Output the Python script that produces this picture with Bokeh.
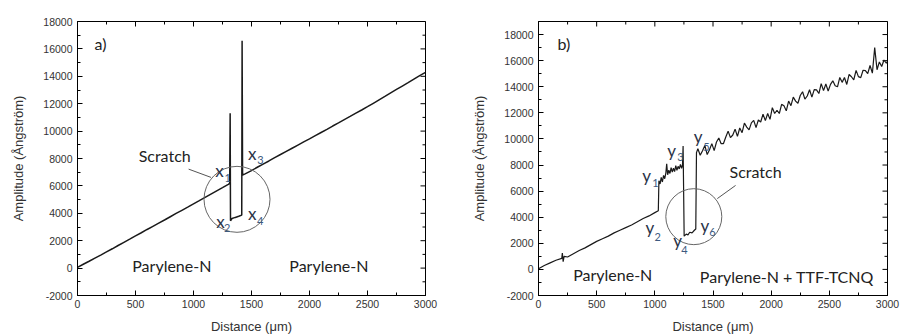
import math
from bokeh.plotting import figure
from bokeh.layouts import row
from bokeh.models import Range1d, SingleIntervalTicker, CustomJSTickFormatter
from bokeh.core.properties import value
from bokeh.embed import file_html
from bokeh.resources import INLINE

# ---------------- data: panel a (Parylene-N / Parylene-N) ----------------
dist_a = [0, 50, 100, 150, 200, 250, 300, 350, 400, 450, 500, 550, 600, 650, 700,
          750, 800, 850, 900, 950, 1000, 1050, 1100, 1150, 1200, 1250, 1300,
          1312, 1316, 1319, 1332, 1360, 1390, 1416, 1419, 1423, 1445,
          1500, 1550, 1600, 1650, 1700, 1750, 1800, 1850, 1900, 1950, 2000, 2050,
          2100, 2150, 2200, 2250, 2300, 2350, 2400, 2450, 2500, 2550, 2600, 2650,
          2700, 2750, 2800, 2850, 2900, 2950, 3000]
amp_a = [50, 280, 500, 730, 950, 1180, 1410, 1650, 1880, 2110, 2350, 2580, 2820, 3050, 3280,
         3510, 3750, 3990, 4220, 4450, 4690, 4920, 5160, 5400, 5640, 5870, 6110,
         6180, 11300, 3450, 3620, 3700, 3780, 3870, 16600, 6800, 6880,
         7120, 7360, 7590, 7820, 8060, 8290, 8520, 8750, 8980, 9210, 9430, 9670,
         9900, 10130, 10370, 10600, 10840, 11070, 11310, 11540, 11780, 12030, 12280, 12530,
         12790, 13040, 13290, 13540, 13800, 14050, 14280]

# ---------------- data: panel b (Parylene-N / Parylene-N + TTF-TCNQ) ----------------
dist_b = [0, 50, 100, 150, 200, 205, 212, 220, 250, 300, 350, 400, 450, 500, 550, 600,
          650, 700, 750, 800, 850, 900, 950, 1000, 1030,
          1035, 1045, 1055, 1065, 1075, 1085, 1095, 1102, 1110, 1120, 1130, 1140, 1150,
          1160, 1170, 1180, 1190, 1200, 1210, 1220, 1230, 1238, 1243, 1252,
          1270, 1285, 1300, 1320, 1340, 1352, 1358,
          1370, 1390, 1410, 1430, 1450, 1470, 1490, 1510, 1530, 1550, 1570, 1590,
          1610, 1630, 1650, 1670, 1690, 1710, 1730, 1750, 1770, 1790, 1810, 1830,
          1850, 1870, 1890, 1910, 1930, 1950, 1970, 1990, 2010, 2030, 2050, 2070,
          2090, 2110, 2130, 2150, 2170, 2190, 2210, 2230, 2250, 2270, 2290, 2310,
          2330, 2350, 2370, 2390, 2410, 2430, 2450, 2470, 2490, 2510, 2530, 2550,
          2570, 2590, 2610, 2630, 2650, 2670, 2690, 2710, 2730, 2750, 2770, 2790,
          2810, 2830, 2850, 2870, 2890, 2910, 2930, 2950, 2970, 2990, 3000]
amp_b = [50, 300, 500, 700, 850, 1250, 600, 1000, 950, 1200, 1450, 1650, 1900, 2150, 2350, 2550,
         2800, 3000, 3200, 3400, 3650, 3900, 4100, 4350, 4500,
         6800, 6550, 7050, 6700, 7200, 6950, 7400, 8100, 7250, 7600, 7350, 7800, 7450,
         7750, 7500, 7950, 7600, 7900, 7700, 8050, 7750, 8000, 9450, 2550,
         2700, 2650, 2850, 2800, 3000, 3100, 8950,
         9250, 8750, 9100, 9500, 8800, 9170, 9640, 9105, 9765, 10075, 9635, 9645,
         10150, 10600, 10100, 10300, 10750, 10195, 10835, 10475, 11215, 10905, 10695, 11235,
         11425, 10865, 11455, 11300, 11900, 11400, 11950, 11500, 12400, 11950, 12200, 11950,
         12650, 12550, 12150, 12900, 12550, 13200, 12895, 12735, 13325, 13615, 13055, 13290,
         13770, 13200, 13780, 13760, 13480, 14240, 13700, 14210, 13670, 14185, 14455, 14075,
         13995, 14715, 14335, 14705, 14175, 14945, 14765, 14535, 15255, 14775, 14695, 15265,
         15235, 15005, 15625, 15045, 17000, 15300, 15900, 15550, 16050, 15800, 15950]

# tick values
x_major = [0, 500, 1000, 1500, 2000, 2500, 3000]
x_minor = [250, 750, 1250, 1750, 2250, 2750]
y_major_a = [-2000, 0, 2000, 4000, 6000, 8000, 10000, 12000, 14000, 16000, 18000]
y_minor_a = [-1000, 1000, 3000, 5000, 7000, 9000, 11000, 13000, 15000, 17000]
y_major_b = y_major_a
y_minor_b = y_minor_a + [19000]

x_label = "Distance (μm)"
y_label = "Amplitude (Ångström)"

# annotations (text, x, y) in data coordinates
ann_a_big = [("a)", 147, 16390), ("Scratch", 527, 8250),
             ("Parylene-N", 472, 155), ("Parylene-N", 1826, 155)]
ann_a_sym = [("x", 1188, 7150), ("x", 1470, 8400), ("x", 1197, 3370), ("x", 1470, 3970)]
ann_a_sub = [("1", 1268, 6600), ("3", 1550, 7890), ("2", 1262, 2910), ("4", 1548, 3460)]
lead_a = ([958, 1151], [7224, 6621])
circ_a = (1375, 5020, 66)

ann_b_big = [("b)", 163, 17310), ("Scratch", 1642, 7494),
             ("Parylene-N", 298, -378), ("Parylene-N + TTF-TCNQ", 1387, -575)]
ann_b_sym = [("y", 892, 7200), ("y", 920, 3250), ("y", 1107, 9150),
             ("y", 1158, 2200), ("y", 1335, 10150), ("y", 1393, 3350)]
ann_b_sub = [("1", 978, 6600), ("2", 997, 2500), ("3", 1193, 8650),
             ("4", 1227, 1500), ("5", 1416, 9350), ("6", 1468, 2850)]
lead_b = ([1694, 1537], [6435, 5428])
circ_b = (1335, 4042, 56)

TICK_FONT = "Liberation Sans"
ANN_FONT = "Lato"


def style_axis(ax):
    ax.axis_line_color = "black"
    ax.major_tick_in = 5
    ax.major_tick_out = 0
    ax.minor_tick_in = 3
    ax.minor_tick_out = 0
    ax.major_tick_line_color = "black"
    ax.minor_tick_line_color = "black"
    ax.major_label_text_font = TICK_FONT
    ax.major_label_text_font_size = "10.5px"
    ax.major_label_text_color = "#333333"
    ax.major_label_text_line_height = 1.0
    ax.axis_label_text_font = TICK_FONT
    ax.axis_label_text_font_size = "13px"
    ax.axis_label_text_font_style = "normal"
    ax.axis_label_text_color = "#333333"
    ax.axis_label_text_line_height = 1.0


def make_panel(dist, amp, y_end, width, borders, y_major, y_minor, line_w,
               ann_big, ann_sym, ann_sub, lead, circ):
    left, right, top, bottom = borders
    p = figure(width=width, height=336, output_backend="svg", toolbar_location=None,
               x_range=Range1d(0, 3000), y_range=Range1d(-2000, y_end),
               min_border_left=left, min_border_right=right,
               min_border_top=top, min_border_bottom=bottom)
    p.xaxis.ticker = SingleIntervalTicker(interval=500, num_minor_ticks=2)
    p.yaxis.ticker = SingleIntervalTicker(interval=2000, num_minor_ticks=2)
    p.yaxis.formatter = CustomJSTickFormatter(code="return tick.toFixed(0);")
    p.xaxis.axis_label = x_label
    p.yaxis.axis_label = y_label
    for ax in p.xaxis + p.yaxis:
        style_axis(ax)
    p.xaxis.major_label_standoff = 4
    p.xaxis.axis_label_standoff = 8
    p.yaxis.major_label_standoff = 5
    p.yaxis.axis_label_standoff = 14
    p.xgrid.visible = False
    p.ygrid.visible = False
    p.outline_line_color = "black"
    p.outline_line_width = 1
    p.background_fill_color = "white"
    p.border_fill_color = "white"

    # mirrored inward ticks on the top and right frame edges
    p.scatter(x_major, [y_end] * len(x_major), marker="dash", angle=math.pi / 2,
              size=10, line_color="black", line_width=1)
    p.scatter(x_minor, [y_end] * len(x_minor), marker="dash", angle=math.pi / 2,
              size=6, line_color="black", line_width=1)
    p.scatter([3000] * len(y_major), y_major, marker="dash",
              size=10, line_color="black", line_width=1)
    p.scatter([3000] * len(y_minor), y_minor, marker="dash",
              size=6, line_color="black", line_width=1)

    p.line(dist, amp, line_color="#1a1a1a", line_width=line_w)

    p.scatter([circ[0]], [circ[1]], size=circ[2], marker="circle",
              fill_color=None, line_color="#666666", line_width=1)
    p.line(lead[0], lead[1], line_color="#555555", line_width=1)

    p.text(x=[a[1] for a in ann_big], y=[a[2] for a in ann_big], text=[a[0] for a in ann_big],
           text_font=value(ANN_FONT), text_font_size="16px", text_color="#222222",
           text_align="left", text_baseline="middle")
    p.text(x=[a[1] for a in ann_sym], y=[a[2] for a in ann_sym], text=[a[0] for a in ann_sym],
           text_font=value(ANN_FONT), text_font_size="17px", text_color="#2a3348",
           text_align="left", text_baseline="middle")
    p.text(x=[a[1] for a in ann_sub], y=[a[2] for a in ann_sub], text=[a[0] for a in ann_sub],
           text_font=value(ANN_FONT), text_font_size="11px", text_color="#3d5a80",
           text_align="left", text_baseline="middle")
    return p


pa = make_panel(dist_a, amp_a, 18000, 450, (77, 25, 18, 39), y_major_a, y_minor_a, 1.5,
                ann_a_big, ann_a_sym, ann_a_sub, lead_a, circ_a)
pb = make_panel(dist_b, amp_b, 19000, 450, (88, 13, 21, 38), y_major_b, y_minor_b, 1.2,
                ann_b_big, ann_b_sym, ann_b_sub, lead_b, circ_b)

layout = row(pa, pb)
open("out.html", "w").write(file_html(layout, INLINE))
